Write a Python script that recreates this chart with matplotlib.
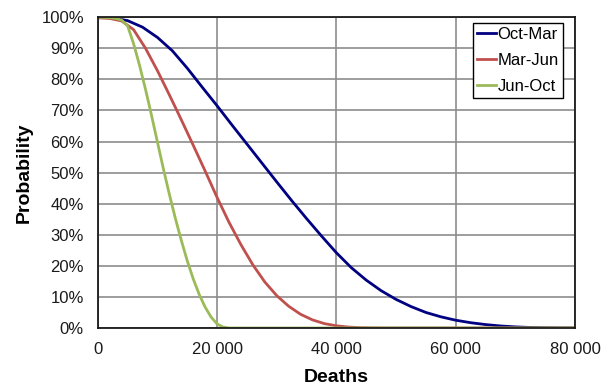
import matplotlib
matplotlib.use("Agg")
import matplotlib.pyplot as plt
from matplotlib.ticker import FuncFormatter

plt.rcParams["font.family"] = ["Liberation Sans", "DejaVu Sans"]

# deaths (thousands) and exceedance probability (%)
blue_x = [0, 2.5, 5, 7.5, 10, 12.5, 15, 17.5, 20, 22.5, 25, 27.5, 30, 32.5, 35,
          37.5, 40, 42.5, 45, 47.5, 50, 52.5, 55, 57.5, 60, 62.5, 65, 67.5, 70,
          72.5, 75, 77.5, 80]
blue_y = [100, 99.8, 98.9, 96.8, 93.5, 89.2, 83.6, 77.5, 71.5, 65.3, 59.2, 53.1,
          47.0, 41.0, 35.2, 29.6, 24.2, 19.4, 15.4, 12.0, 9.2, 6.9, 5.0, 3.6, 2.5,
          1.7, 1.1, 0.65, 0.35, 0.17, 0.07, 0.02, 0]

red_x = [0, 2, 4, 6, 8, 10, 12, 14, 16, 18, 20, 22, 24, 26, 28, 30, 32, 34, 36,
         38, 40, 42, 44, 46, 48, 80]
red_y = [99.8, 99.6, 98.8, 96.0, 90.0, 82.8, 75.0, 67.0, 58.8, 50.5, 42.0, 34.0,
         26.8, 20.3, 14.8, 10.4, 7.0, 4.4, 2.6, 1.4, 0.7, 0.3, 0.1, 0.03, 0, 0]

green_x = [0, 1, 2, 3, 4, 5, 6, 7, 8, 9, 10, 11, 12, 13, 14, 15, 16, 17, 18, 19,
           20, 21, 22, 80]
green_y = [100, 99.95, 99.85, 99.6, 99.1, 97.2, 91.5, 84.5, 76.8, 68.5, 59.8, 51.2,
           43.0, 35.3, 28.2, 21.6, 15.8, 10.8, 6.7, 3.5, 1.3, 0.3, 0, 0]

labels = ["Oct-Mar", "Mar-Jun", "Jun-Oct"]
colors = ["#000080", "#C0504D", "#9BBB59"]

fig = plt.figure(figsize=(6.15, 3.87), dpi=100)
ax = fig.add_axes([0.159, 0.1525, 0.776, 0.803])

for xs, ys, lab, c in zip([blue_x, red_x, green_x], [blue_y, red_y, green_y],
                          labels, colors):
    ax.plot([v * 1000 for v in xs], [v / 100 for v in ys], color=c, lw=2,
            label=lab, solid_joinstyle="round")

ax.set_xlim(0, 80000)
ax.set_ylim(0, 1)
ax.set_xticks(range(0, 80001, 20000))
ax.set_yticks([i / 10 for i in range(11)])
ax.xaxis.set_major_formatter(FuncFormatter(lambda v, p: f"{int(v):,}".replace(",", " ")))
ax.yaxis.set_major_formatter(FuncFormatter(lambda v, p: f"{v * 100:.0f}%"))
ax.tick_params(length=0, labelsize=12, pad=10, colors="#1a1a1a")
ax.grid(True, color="#8c8c8c", lw=1.2)
ax.set_axisbelow(True)
for s in ax.spines.values():
    s.set_color("#1a1a1a")
    s.set_linewidth(1.3)

ax.set_xlabel("Deaths", fontsize=14, fontweight="bold", labelpad=9)
ax.set_ylabel("Probability", fontsize=14, fontweight="bold", labelpad=6)

leg = ax.legend(loc="upper right", bbox_to_anchor=(0.975, 0.982), fontsize=12,
                handlelength=1.15, handletextpad=0.1, borderpad=0.25,
                labelspacing=0.65, fancybox=False, framealpha=1, borderaxespad=0)
leg.get_frame().set_edgecolor("black")
leg.get_frame().set_linewidth(1.0)

fig.savefig("out.png", dpi=100)
